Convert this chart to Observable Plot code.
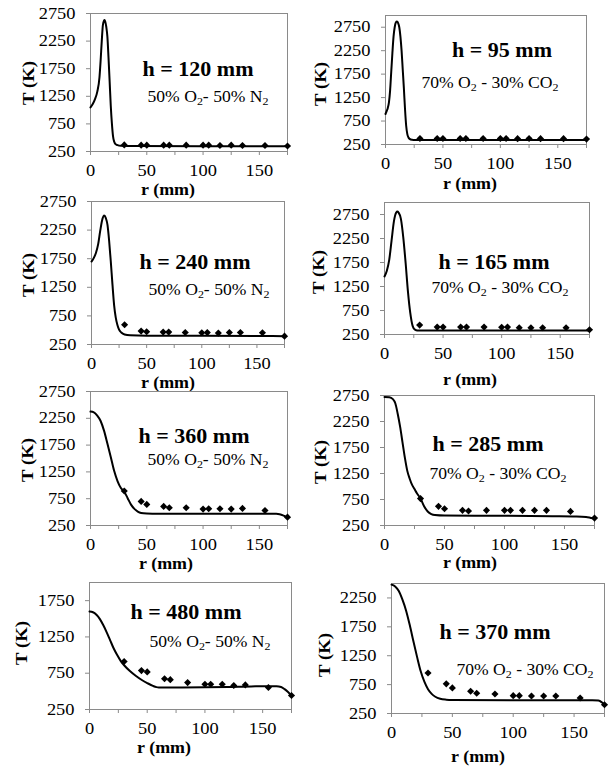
<!DOCTYPE html>
<html><head><meta charset="utf-8">
<script src="https://cdn.jsdelivr.net/npm/d3@7"></script>
<script src="https://cdn.jsdelivr.net/npm/@observablehq/plot@0.6"></script>
<style>
body{margin:0;background:#fff;}
#root{position:relative;width:609px;height:767px;overflow:hidden;font-family:"Liberation Serif","Tinos","DejaVu Serif",serif;color:#000;}
#root svg{position:absolute;}
.lbl{position:absolute;white-space:nowrap;line-height:1;}
.ttl{font-weight:bold;font-size:20px;}
.mix{font-size:16px;}
.mix sub{font-size:0.68em;vertical-align:-0.28em;line-height:0;}
.ax{font-weight:bold;font-size:17px;}
.rx{font-weight:bold;font-size:16px;}
</style></head>
<body><div id="root"></div>
<script>
// ---------- data ----------
const heightLabels = ["h = 120 mm","h = 95 mm","h = 240 mm","h = 165 mm","h = 360 mm","h = 285 mm","h = 480 mm","h = 370 mm"];
const mixN2 = "50% O<sub>2</sub>- 50% N<sub>2</sub>";
const mixCO2 = "70% O<sub>2</sub> - 30% CO<sub>2</sub>";
const mixtures = [mixN2, mixCO2, mixN2, mixCO2, mixN2, mixCO2, mixN2, mixCO2];
const xTicks = [0,25,50,75,100,125,150,175];
const xTickLabels = [0,50,100,150];

// measured radial positions (mm)
const rMeas = [30,45,50,65,70,85,100,105,115,125,135,155,175];
// measured temperatures (K)
const tMeas_h120 = [370,365,365,365,365,365,365,365,360,365,360,360,350];
const tMeas_h95  = [378,378,378,378,378,378,378,378,375,378,375,375,365];
const tMeas_h240 = [595,484,472,467,467,461,455,458,449,461,461,455,396];
const tMeas_h165 = [446,404,404,404,404,404,400,404,390,390,390,390,348];
const tMeas_h360 = [894,700,644,606,581,581,556,562,562,556,569,531,406];
const tMeas_h285 = [767,618,573,541,528,541,541,541,541,541,541,521,392];
const tMeas_h480 = [911,786,768,674,661,621,598,598,598,580,589,554,442];
const tMeas_h370 = [950,763,693,634,600,588,559,559,553,553,553,518,402];

// model curves
const rMod_h120 = [0,2,4,6,8,9,10,11,12,12.5,13,14,15,16,17,18,19,20,21,22,24,27,40,100,175];
const tMod_h120 = [1050,1110,1200,1330,1600,1900,2250,2540,2620,2630,2610,2510,2330,1950,1520,1080,760,530,430,390,365,352,348,347,347];
const rMod_h95  = [0,1,2,3,4,5,6,7,8,9,10,11,12,13,14,15,16,17,18,19,20,21,23,26,40,175];
const tMod_h95  = [900,960,1030,1150,1400,1800,2200,2550,2750,2850,2870,2840,2750,2550,2250,1850,1450,1000,650,470,400,370,350,345,345,345];
const rMod_h240 = [0,2,4,6,8,10,11.5,13,14.5,16,17.5,19,20.5,22,23.5,25,27,30,35,50,100,150,175];
const tMod_h240 = [1700,1760,1850,2000,2250,2450,2505,2460,2340,2060,1700,1300,940,720,590,510,460,425,410,405,405,400,395];
const rMod_h165 = [0,2,4,6,8,10,11,12,14,16,18,20,22,24,26,28,35,100,175];
const tMod_h165 = [1460,1580,1800,2200,2600,2790,2810,2790,2660,2280,1750,1150,700,430,350,335,335,335,335];
const rMod_h360 = [0,3,6,9,12,15,18,21,24,27,30,33,36,39,42,45,50,60,100,150,160,165,168,171,173,175];
const tMod_h360 = [2375,2360,2300,2200,2020,1780,1530,1270,1080,950,880,760,640,560,510,485,475,470,470,470,470,468,460,440,420,405];
const rMod_h285 = [0,4,7,9,11,13,15,17,19,21,23,25,27,30,33,36,39,42,50,100,140,160,168,172,175];
const tMod_h285 = [2720,2715,2680,2600,2400,2150,1850,1550,1300,1150,1030,950,870,770,620,520,470,450,440,437,430,425,415,395,380];
const rMod_h480 = [0,3,6,9,12,15,18,21,24,27,30,35,40,45,50,55,58,60,80,100,120,140,155,162,166,169,172,175];
const tMod_h480 = [1600,1590,1555,1495,1410,1310,1200,1090,1000,920,860,780,715,660,615,575,558,553,553,555,560,568,570,570,560,530,490,442];
const rMod_h370 = [0,3,6,9,12,15,18,21,24,27,30,33,36,40,45,50,100,150,165,170,173,175];
const tMod_h370 = [2480,2450,2370,2220,2030,1780,1500,1230,980,800,670,590,540,505,490,485,480,480,480,475,440,402];

const yMaxes = [2750,3000,2750,3000,2750,2750,2000,2500];
const measSeries = [tMeas_h120,tMeas_h95,tMeas_h240,tMeas_h165,tMeas_h360,tMeas_h285,tMeas_h480,tMeas_h370];
const modR = [rMod_h120,rMod_h95,rMod_h240,rMod_h165,rMod_h360,rMod_h285,rMod_h480,rMod_h370];
const modT = [tMod_h120,tMod_h95,tMod_h240,tMod_h165,tMod_h360,tMod_h285,tMod_h480,tMod_h370];

// ---------- layout (pixels) ----------
const FONT = '"Liberation Serif","Tinos","DejaVu Serif",serif';
const cells = [
  {cx:0,cy:0,w:305,h:195},{cx:305,cy:0,w:304,h:195},
  {cx:0,cy:195,w:305,h:195},{cx:305,cy:195,w:304,h:195},
  {cx:0,cy:390,w:305,h:190},{cx:305,cy:390,w:304,h:190},
  {cx:0,cy:580,w:305,h:187},{cx:305,cy:580,w:304,h:187}
];
const frames = [ // x0,x1,top,bottom
  [90,287,13,151],[385,586,15,144],
  [91,284,201,344],[384,589,202,334],
  [90,287,391,525],[384,594,395,525],
  [89,291,582,709],[391,604,583,713]
];
const titlePos = [[198,69],[502,50],[195,262],[494,262],[194,436],[488,444],[186,612],[495,632]];
const mixPos   = [[208,97],[490,83],[209,290],[500,288],[208,460],[498,474],[210,642],[525,670]];
const tLabPos  = [[28,83],[320,84],[28,275],[318,272],[27,460],[320,462],[21,643],[324,655]];
const rLabPos  = [[168,190],[470,184],[168,383],[470,380],[166,564],[470,563],[164,748],[478,757]];
const SX = 1.15;

const root = document.getElementById("root");

function stretchText(svg, sx){
  svg.querySelectorAll("text").forEach(t=>{
    const x = +(t.getAttribute("x")||0);
    const tr = t.getAttribute("transform")||"";
    t.setAttribute("transform", `${tr} translate(${x},0) scale(${sx},1) translate(${-x},0)`);
  });
}
function addLabel(html, x, y, cls, extra){
  const d = document.createElement("div");
  d.className = "lbl " + cls;
  d.innerHTML = html;
  d.style.left = x + "px";
  d.style.top = y + "px";
  d.style.transform = "translate(-50%,-50%) " + (extra||"");
  root.appendChild(d);
}

for (let i = 0; i < 8; i++) {
  const c = cells[i], f = frames[i];
  const yMax = yMaxes[i];
  const yTicks = d3.range(250, yMax + 1, 500);
  const meas = rMeas.map((r,j)=>({r, T: measSeries[i][j]}));
  const model = modR[i].map((r,j)=>({r, T: modT[i][j]}));
  const svg = Plot.plot({
    width: c.w, height: c.h,
    marginLeft: f[0]-c.cx, marginRight: c.cx+c.w-f[1],
    marginTop: f[2]-c.cy, marginBottom: c.cy+c.h-f[3],
    style: {fontFamily:FONT, fontSize:"16px", color:"#000", background:"transparent", overflow:"visible"},
    x: {domain:[0,175]},
    y: {domain:[250,yMax]},
    marks: [
      Plot.frame({stroke:"#8a8a8a", strokeWidth:1}),
      Plot.axisY({ticks:yTicks, tickSize:4, tickPadding:11, stroke:"#8a8a8a", fill:"#000", fontFamily:FONT, tickFormat:d=>String(d), label:null}),
      Plot.axisX({ticks:xTicks, tickSize:4, tickPadding:9, stroke:"#8a8a8a", fill:"#000", fontFamily:FONT, tickFormat:d=>xTickLabels.includes(d)?String(d):"", label:null}),
      Plot.line(model, {x:"r", y:"T", stroke:"#000", strokeWidth:2, curve:"monotone-x"}),
      Plot.dot(meas, {x:"r", y:"T", symbol:"diamond2", fill:"#000", stroke:"none", r:3.2})
    ]
  });
  svg.querySelectorAll("text").forEach(t=>t.setAttribute("font-family", FONT));
  stretchText(svg, SX);
  svg.style.left = c.cx + "px";
  svg.style.top = c.cy + "px";
  root.appendChild(svg);

  addLabel(heightLabels[i], titlePos[i][0], titlePos[i][1], "ttl", "scaleX(1.1)");
  addLabel(mixtures[i], mixPos[i][0], mixPos[i][1], "mix", "scaleX(1.1)");
  addLabel("T (K)", tLabPos[i][0], tLabPos[i][1], "ax", "rotate(-90deg) scaleX(1.1)");
  addLabel("r (mm)", rLabPos[i][0], rLabPos[i][1], "rx", "scaleX(1.12)");
}
</script>
</body></html>
